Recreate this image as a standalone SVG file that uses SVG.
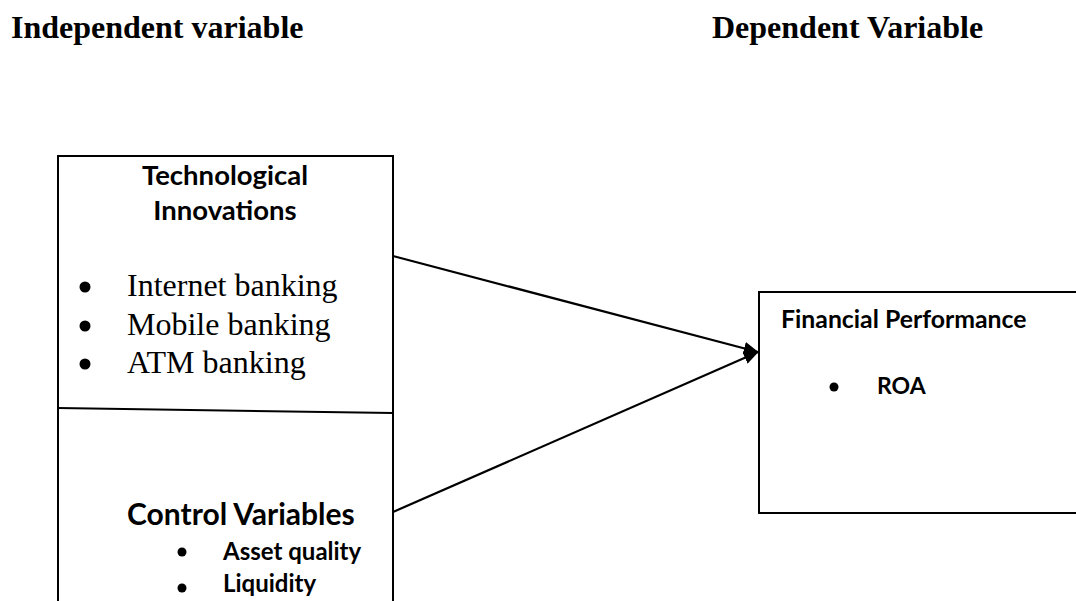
<svg xmlns="http://www.w3.org/2000/svg" width="1076" height="601" viewBox="0 0 1076 601">
<style>
.hdr{font-family:"Liberation Serif","Times New Roman",serif;font-weight:bold;font-size:32px;fill:#000}
.ser{font-family:"Liberation Serif","Times New Roman",serif;font-size:32px;fill:#000}
.sb{font-family:Lato,"Open Sans",sans-serif;font-weight:bold;fill:#000}
.box{fill:#fff;stroke:#000;stroke-width:2}
.conn{stroke:#000;stroke-width:2.2;fill:none}
</style>
<defs>
<marker id="arr" viewBox="0 0 10 10" refX="9.5" refY="5" markerWidth="15" markerHeight="13" markerUnits="userSpaceOnUse" orient="auto" preserveAspectRatio="none">
<path d="M0,0 L10,5 L0,10 z" fill="#000"/>
</marker>
</defs>
<rect width="1076" height="601" fill="#fff"/>
<g id="headers">
<text class="hdr" x="11" y="38">Independent variable</text>
<text class="hdr" x="712" y="38">Dependent Variable</text>
</g>
<g id="independent">
<path class="box" d="M58,620 L58,156 L393,156 L393,620"/>
<line x1="58" y1="408" x2="393" y2="413" stroke="#000" stroke-width="2"/>
<text class="sb" x="225" y="185" font-size="27.5" text-anchor="middle">Technological</text>
<text class="sb" x="225" y="220" font-size="27.5" text-anchor="middle">Innovations</text>
<circle cx="85" cy="287" r="5.5"/>
<text class="ser" x="127" y="296">Internet banking</text>
<circle cx="85" cy="326" r="5.5"/>
<text class="ser" x="127" y="335">Mobile banking</text>
<circle cx="85" cy="364" r="5.5"/>
<text class="ser" x="127" y="373">ATM banking</text>
<text class="sb" x="127" y="525" font-size="30">Control Variables</text>
<circle cx="182" cy="552" r="4.5"/>
<text class="sb" x="223" y="560" font-size="24">Asset quality</text>
<circle cx="182" cy="588" r="4.5"/>
<text class="sb" x="223" y="592" font-size="24">Liquidity</text>
</g>
<g id="dependent">
<rect class="box" x="759" y="292" width="320" height="221"/>
<text class="sb" x="781" y="328" font-size="24.8">Financial Performance</text>
<circle cx="834" cy="387" r="4.5"/>
<text class="sb" x="877" y="394" font-size="23">ROA</text>
</g>
<g id="connectors">
<line class="conn" x1="393" y1="256" x2="758" y2="352" marker-end="url(#arr)"/>
<line class="conn" x1="393" y1="512" x2="758" y2="352" marker-end="url(#arr)"/>
</g>
</svg>
